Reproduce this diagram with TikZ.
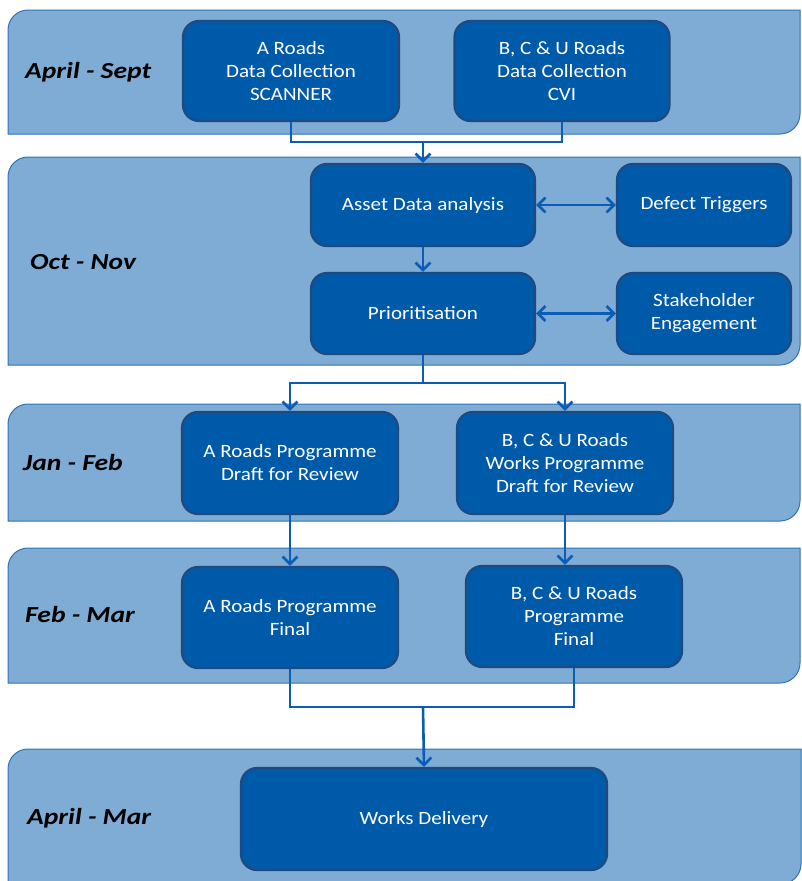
\documentclass[tikz,border=0pt]{standalone}
\usepackage{fontspec}
\setmainfont{Carlito}[FakeStretch=1.12]
\newfontfamily\periodfont{Carlito}[FakeStretch=1.2]
\usetikzlibrary{arrows.meta}
\definecolor{bandfill}{HTML}{7FACD4}
\definecolor{banddraw}{HTML}{2E72BA}
\definecolor{boxfill}{HTML}{005AAA}
\definecolor{boxdraw}{HTML}{1F4A80}
\definecolor{linkc}{HTML}{0A5CB4}
\tikzset{
  band/.style={fill=bandfill, draw=banddraw, line width=1pt},
  stepbox/.style={rectangle, rounded corners=16pt, fill=boxfill, draw=boxdraw, line width=2.2pt,
    text=white, align=center, font=\fontsize{18.8}{23}\selectfont, inner sep=0pt},
  period/.style={anchor=west, font=\periodfont\fontsize{23}{27}\selectfont\bfseries\itshape, text=black, inner sep=0pt},
  link/.style={draw=linkc, line width=2.6pt},
  arr/.style={link, -{Straight Barb[length=7.5pt,width=15pt,line width=2.6pt]}},
  darr/.style={link, {Straight Barb[length=7.5pt,width=15pt,line width=2.6pt]}-{Straight Barb[length=7.5pt,width=15pt,line width=2.6pt]}},
}
\newcommand{\bandshape}[4]{% x1 y1 x2 y2 (pixel coords)
  \path[band] (#1,#4) -- (#1,#2+20) arc[start angle=180,end angle=90,radius=20pt]
    -- (#3,#2) -- (#3,#4-20) arc[start angle=0,end angle=-90,radius=20pt] -- cycle;}
\begin{document}
\begin{tikzpicture}[x=1pt,y=-1pt]
\useasboundingbox (0,0) rectangle (801,881);
% bands
\bandshape{8}{10}{800}{134}
\bandshape{8}{157}{800}{365}
\bandshape{8}{404}{800}{521}
\bandshape{8}{548}{800}{683}
\bandshape{8}{749}{801}{884}
% period labels
\node[period] (p1) at (25,72) {April - Sept};
\node[period] (p2) at (30,262) {Oct - Nov};
\node[period] (p3) at (23,463) {Jan - Feb};
\node[period] (p4) at (25,615) {Feb - Mar};
\node[period] (p5) at (27,818) {April - Mar};
% boxes
\node[stepbox, minimum width=216pt, minimum height=100pt] (n1) at (291,71) {A Roads\\Data Collection\\SCANNER};
\node[stepbox, minimum width=215pt, minimum height=100pt] (n2) at (562,71) {B, C \& U Roads\\Data Collection\\CVI};
\node[stepbox, minimum width=224pt, minimum height=82pt] (n3) at (423,205) {Asset Data analysis};
\node[stepbox, minimum width=174pt, minimum height=82pt] (n4) at (704,205) {Defect Triggers};
\node[stepbox, minimum width=224pt, minimum height=81pt] (n5) at (423,313.5) {Prioritisation};
\node[stepbox, minimum width=174pt, minimum height=81pt] (n6) at (704,313.5) {Stakeholder\\Engagement};
\node[stepbox, minimum width=216pt, minimum height=102pt] (n7) at (290,463) {A Roads Programme\\Draft for Review};
\node[stepbox, minimum width=216pt, minimum height=102pt] (n8) at (565,463) {B, C \& U Roads\\Works Programme\\Draft for Review};
\node[stepbox, minimum width=216pt, minimum height=101pt] (n9) at (290,617.5) {A Roads Programme\\Final};
\node[stepbox, minimum width=216pt, minimum height=101pt] (n10) at (574,616.5) {B, C \& U Roads\\Programme\\Final};
\node[stepbox, minimum width=366pt, minimum height=102pt] (n11) at (424,819) {Works Delivery};
% connectors
\coordinate (m1) at (423,142);
\coordinate (m2) at (423,383);
\coordinate (m3) at (423,707);
\draw[link] (n1.south) |- (m1) -| (n2.south);
\draw[arr] (m1) -- (n3.north);
\draw[arr] (n3) -- (n5);
\draw[darr] (n3) -- (n4);
\draw[darr] (n5) -- (n6);
\draw[link] (n5.south) -- (m2);
\draw[arr] (m2) -| (n7.north);
\draw[arr] (m2) -| (n8.north);
\draw[arr] (n7) -- (n9);
\draw[arr] (n8.south) -- (n8.south |- n10.north);
\draw[link] (n9.south) |- (m3) -| (n10.south);
\draw[arr] (m3) -- (n11.north);
\end{tikzpicture}
\end{document}
